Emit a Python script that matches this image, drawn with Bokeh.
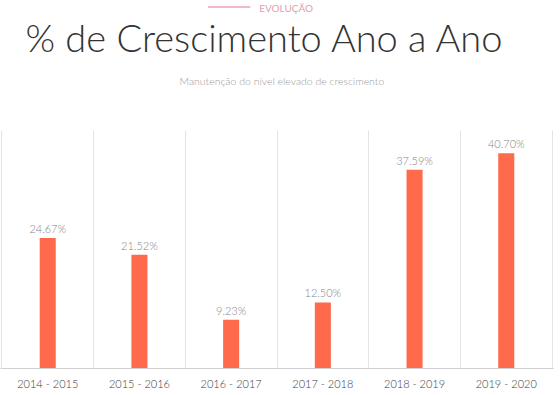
from bokeh.plotting import figure
from bokeh.layouts import column
from bokeh.models import ColumnDataSource, LabelSet, Label, FixedTicker, FactorRange, Range1d
from bokeh.core.properties import value
from bokeh.embed import file_html
from bokeh.resources import INLINE

periods = ["2014 - 2015", "2015 - 2016", "2016 - 2017", "2017 - 2018", "2018 - 2019", "2019 - 2020"]
growth = [24.67, 21.52, 9.23, 12.50, 37.59, 40.70]
labels = ["%.2f%%" % v for v in growth]

kicker = "EVOLUÇÃO"
title_text = "% de Crescimento Ano a Ano"
subtitle = "Manutenção do nível elevado de crescimento"

FONT = "Lato"
LIGHT = "Lato Light, Lato"

# ---------- header (pixel-like coordinates, y downward) ----------
h = figure(width=560, height=122, x_range=Range1d(0, 560), y_range=Range1d(122, 0),
           output_backend="svg", toolbar_location=None,
           min_border_left=0, min_border_right=0, min_border_top=0, min_border_bottom=0)
h.axis.visible = False
h.grid.grid_line_color = None
h.outline_line_color = None
h.add_layout(Label(x=268, y=36, text=title_text, text_align="center", text_baseline="middle",
                   text_font_size="38px", text_color="#333333", text_font=LIGHT))
h.add_layout(Label(x=285, y=80, text=subtitle, text_align="center", text_baseline="middle",
                   text_font_size="10.5px", text_color="#9a9a9a", text_font=LIGHT))
h.add_layout(Label(x=262, y=7, text=kicker, text_align="left", text_baseline="middle",
                   text_font_size="10px", text_color="#e0a0ae", text_font=FONT))
h.segment(x0=[210], y0=[6.5], x1=[253], y1=[6.5], line_color="#e07a8c", line_width=1)

# ---------- chart ----------
src = ColumnDataSource(dict(period=periods, growth=growth, label=labels))

p = figure(x_range=FactorRange(*periods, range_padding=0.005), y_range=Range1d(0, 45),
           width=560, height=273, output_backend="svg", toolbar_location=None,
           min_border_left=0, min_border_right=7, min_border_top=8, min_border_bottom=27)
p.outline_line_color = None

p.vbar(x="period", top="growth", width=0.175, source=src, fill_color="#ff6a4d", line_color=None)

p.add_layout(LabelSet(x="period", y="growth", text="label", source=src, text_align="center",
                      text_baseline="bottom", y_offset=3, text_font_size="11px",
                      text_color="#858585", text_font=value(LIGHT)))

p.yaxis.visible = False
p.ygrid.grid_line_color = None
p.xgrid.ticker = FixedTicker(ticks=[0, 1, 2, 3, 4, 5, 6])
p.xgrid.grid_line_color = "#e3e3e3"
p.xaxis.axis_line_color = "#d0d0d0"
p.xaxis.major_tick_line_color = None
p.xaxis.minor_tick_line_color = None
p.xaxis.major_label_text_font_size = "11px"
p.xaxis.major_label_text_color = "#3c3c3c"
p.xaxis.major_label_text_font = LIGHT
p.xaxis.major_label_standoff = 2

open("out.html", "w").write(file_html(column(h, p, spacing=0), INLINE))
